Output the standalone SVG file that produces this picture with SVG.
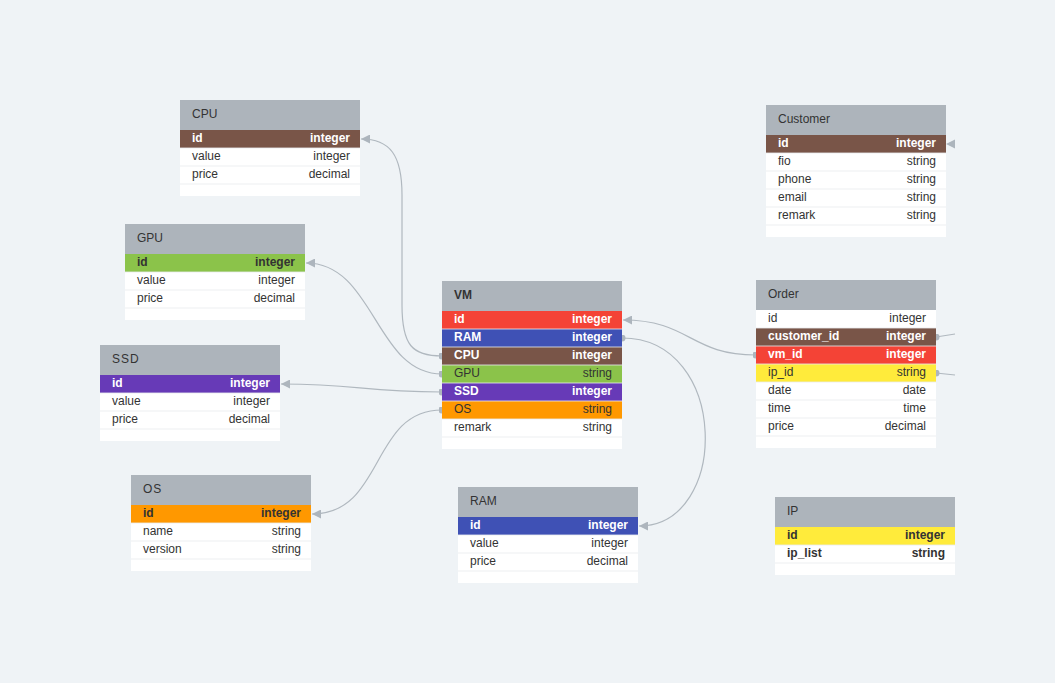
<svg xmlns="http://www.w3.org/2000/svg" width="1055" height="683" viewBox="0 0 1055 683">
<style>
.bg{fill:#eff3f6}
.hd{fill:#adb4bb}
.body{fill:#ffffff}
.ttl{font-family:"Liberation Sans",Arial,sans-serif;font-size:12px;fill:#333}
.t{font-family:"Liberation Sans",Arial,sans-serif;font-size:12px;fill:#333}
.r{text-anchor:end}
.w{fill:#ffffff;font-weight:bold}
.b{font-weight:bold}
.sep{stroke:#e9edf0;stroke-width:1.2;opacity:0.8}
.brown{fill:#795548}.red{fill:#f44336}.blue{fill:#3f51b5}.green{fill:#8bc34a}.purple{fill:#673ab7}.orange{fill:#ff9800}.yellow{fill:#ffeb3b}
.link{fill:none;stroke:#b0b8bf;stroke-width:1.2}
.ah{fill:#adb5bd}
</style>
<defs>
<marker id="arr" viewBox="0 0 10 10" refX="10" refY="5" markerWidth="9" markerHeight="9" markerUnits="userSpaceOnUse" orient="auto"><path d="M0,0 L10,5 L0,10 z" fill="#adb5bd"/></marker>
<marker id="dot" viewBox="0 0 10 10" refX="5" refY="5" markerWidth="7" markerHeight="7" markerUnits="userSpaceOnUse"><circle cx="5" cy="5" r="5" fill="#adb5bd"/></marker>
</defs>
<rect class="bg" x="0" y="0" width="1055" height="683"/>

<g id="connectors">
<path class="link" d="M442,356 C412,356 402,345 402,305 L402,195 C402,155 390,139 361,139" marker-start="url(#dot)" marker-end="url(#arr)"/>
<path class="link" d="M442,374 C375,374 375,263 306,263" marker-start="url(#dot)" marker-end="url(#arr)"/>
<path class="link" d="M442,392 C360,392 360,384 281,384" marker-start="url(#dot)" marker-end="url(#arr)"/>
<path class="link" d="M442,410 C370,410 385,514 312,514" marker-start="url(#dot)" marker-end="url(#arr)"/>
<path class="link" d="M622,338 C730,338 730,526 639,526" marker-start="url(#dot)" marker-end="url(#arr)"/>
<path class="link" d="M756,355 C690,355 690,320 623,320" marker-start="url(#dot)" marker-end="url(#arr)"/>
<path class="link" d="M936,337 L955,334" marker-start="url(#dot)"/>
<path class="link" d="M936,373 L955,375" marker-start="url(#dot)"/>
<polygon class="ah" points="946,144 955,139.5 955,148.5"/>
</g>

<g id="node-cpu">
<rect class="hd" x="180" y="100" width="180" height="30"/>
<text class="ttl" x="192" y="118">CPU</text>
<rect class="body" x="180" y="130" width="180" height="66"/>
<rect class="brown" x="180" y="130" width="180" height="18"/>
<line class="sep" x1="180" y1="148" x2="360" y2="148"/><line class="sep" x1="180" y1="166" x2="360" y2="166"/><line class="sep" x1="180" y1="184" x2="360" y2="184"/>
<text class="t w" x="192" y="142">id</text><text class="t w r" x="350" y="142">integer</text>
<text class="t" x="192" y="160">value</text><text class="t r" x="350" y="160">integer</text>
<text class="t" x="192" y="178">price</text><text class="t r" x="350" y="178">decimal</text>
</g>

<g id="node-gpu">
<rect class="hd" x="125" y="224" width="180" height="30"/>
<text class="ttl" x="137" y="242">GPU</text>
<rect class="body" x="125" y="254" width="180" height="66"/>
<rect class="green" x="125" y="254" width="180" height="18"/>
<line class="sep" x1="125" y1="272" x2="305" y2="272"/><line class="sep" x1="125" y1="290" x2="305" y2="290"/><line class="sep" x1="125" y1="308" x2="305" y2="308"/>
<text class="t b" x="137" y="266">id</text><text class="t b r" x="295" y="266">integer</text>
<text class="t" x="137" y="284">value</text><text class="t r" x="295" y="284">integer</text>
<text class="t" x="137" y="302">price</text><text class="t r" x="295" y="302">decimal</text>
</g>

<g id="node-ssd">
<rect class="hd" x="100" y="345" width="180" height="30"/>
<text class="ttl" x="112" y="363" letter-spacing="1">SSD</text>
<rect class="body" x="100" y="375" width="180" height="66"/>
<rect class="purple" x="100" y="375" width="180" height="18"/>
<line class="sep" x1="100" y1="393" x2="280" y2="393"/><line class="sep" x1="100" y1="411" x2="280" y2="411"/><line class="sep" x1="100" y1="429" x2="280" y2="429"/>
<text class="t w" x="112" y="387">id</text><text class="t w r" x="270" y="387">integer</text>
<text class="t" x="112" y="405">value</text><text class="t r" x="270" y="405">integer</text>
<text class="t" x="112" y="423">price</text><text class="t r" x="270" y="423">decimal</text>
</g>

<g id="node-os">
<rect class="hd" x="131" y="475" width="180" height="30"/>
<text class="ttl" x="143" y="493" letter-spacing="1">OS</text>
<rect class="body" x="131" y="505" width="180" height="66"/>
<rect class="orange" x="131" y="505" width="180" height="18"/>
<line class="sep" x1="131" y1="523" x2="311" y2="523"/><line class="sep" x1="131" y1="541" x2="311" y2="541"/><line class="sep" x1="131" y1="559" x2="311" y2="559"/>
<text class="t b" x="143" y="517">id</text><text class="t b r" x="301" y="517">integer</text>
<text class="t" x="143" y="535">name</text><text class="t r" x="301" y="535">string</text>
<text class="t" x="143" y="553">version</text><text class="t r" x="301" y="553">string</text>
</g>

<g id="node-vm">
<rect class="hd" x="442" y="281" width="180" height="30"/>
<text class="ttl b" x="454" y="299">VM</text>
<rect class="body" x="442" y="311" width="180" height="138"/>
<rect class="red" x="442" y="311" width="180" height="18"/>
<rect class="blue" x="442" y="329" width="180" height="18"/>
<rect class="brown" x="442" y="347" width="180" height="18"/>
<rect class="green" x="442" y="365" width="180" height="18"/>
<rect class="purple" x="442" y="383" width="180" height="18"/>
<rect class="orange" x="442" y="401" width="180" height="18"/>
<line class="sep" x1="442" y1="329" x2="622" y2="329"/><line class="sep" x1="442" y1="347" x2="622" y2="347"/><line class="sep" x1="442" y1="365" x2="622" y2="365"/><line class="sep" x1="442" y1="383" x2="622" y2="383"/><line class="sep" x1="442" y1="401" x2="622" y2="401"/><line class="sep" x1="442" y1="419" x2="622" y2="419"/><line class="sep" x1="442" y1="437" x2="622" y2="437"/>
<text class="t w" x="454" y="323">id</text><text class="t w r" x="612" y="323">integer</text>
<text class="t w" x="454" y="341">RAM</text><text class="t w r" x="612" y="341">integer</text>
<text class="t w" x="454" y="359">CPU</text><text class="t w r" x="612" y="359">integer</text>
<text class="t" x="454" y="377">GPU</text><text class="t r" x="612" y="377">string</text>
<text class="t w" x="454" y="395">SSD</text><text class="t w r" x="612" y="395">integer</text>
<text class="t" x="454" y="413">OS</text><text class="t r" x="612" y="413">string</text>
<text class="t" x="454" y="431">remark</text><text class="t r" x="612" y="431">string</text>
</g>

<g id="node-ram">
<rect class="hd" x="458" y="487" width="180" height="30"/>
<text class="ttl" x="470" y="505">RAM</text>
<rect class="body" x="458" y="517" width="180" height="66"/>
<rect class="blue" x="458" y="517" width="180" height="18"/>
<line class="sep" x1="458" y1="535" x2="638" y2="535"/><line class="sep" x1="458" y1="553" x2="638" y2="553"/><line class="sep" x1="458" y1="571" x2="638" y2="571"/>
<text class="t w" x="470" y="529">id</text><text class="t w r" x="628" y="529">integer</text>
<text class="t" x="470" y="547">value</text><text class="t r" x="628" y="547">integer</text>
<text class="t" x="470" y="565">price</text><text class="t r" x="628" y="565">decimal</text>
</g>

<g id="node-order">
<rect class="hd" x="756" y="280" width="180" height="30"/>
<text class="ttl" x="768" y="298">Order</text>
<rect class="body" x="756" y="310" width="180" height="138"/>
<rect class="brown" x="756" y="328" width="180" height="18"/>
<rect class="red" x="756" y="346" width="180" height="18"/>
<rect class="yellow" x="756" y="364" width="180" height="18"/>
<line class="sep" x1="756" y1="328" x2="936" y2="328"/><line class="sep" x1="756" y1="346" x2="936" y2="346"/><line class="sep" x1="756" y1="364" x2="936" y2="364"/><line class="sep" x1="756" y1="382" x2="936" y2="382"/><line class="sep" x1="756" y1="400" x2="936" y2="400"/><line class="sep" x1="756" y1="418" x2="936" y2="418"/><line class="sep" x1="756" y1="436" x2="936" y2="436"/>
<text class="t" x="768" y="322">id</text><text class="t r" x="926" y="322">integer</text>
<text class="t w" x="768" y="340">customer_id</text><text class="t w r" x="926" y="340">integer</text>
<text class="t w" x="768" y="358">vm_id</text><text class="t w r" x="926" y="358">integer</text>
<text class="t" x="768" y="376">ip_id</text><text class="t r" x="926" y="376">string</text>
<text class="t" x="768" y="394">date</text><text class="t r" x="926" y="394">date</text>
<text class="t" x="768" y="412">time</text><text class="t r" x="926" y="412">time</text>
<text class="t" x="768" y="430">price</text><text class="t r" x="926" y="430">decimal</text>
</g>

<g id="node-customer">
<rect class="hd" x="766" y="105" width="180" height="30"/>
<text class="ttl" x="778" y="123">Customer</text>
<rect class="body" x="766" y="135" width="180" height="102"/>
<rect class="brown" x="766" y="135" width="180" height="18"/>
<line class="sep" x1="766" y1="153" x2="946" y2="153"/><line class="sep" x1="766" y1="171" x2="946" y2="171"/><line class="sep" x1="766" y1="189" x2="946" y2="189"/><line class="sep" x1="766" y1="207" x2="946" y2="207"/><line class="sep" x1="766" y1="225" x2="946" y2="225"/>
<text class="t w" x="778" y="147">id</text><text class="t w r" x="936" y="147">integer</text>
<text class="t" x="778" y="165">fio</text><text class="t r" x="936" y="165">string</text>
<text class="t" x="778" y="183">phone</text><text class="t r" x="936" y="183">string</text>
<text class="t" x="778" y="201">email</text><text class="t r" x="936" y="201">string</text>
<text class="t" x="778" y="219">remark</text><text class="t r" x="936" y="219">string</text>
</g>

<g id="node-ip">
<rect class="hd" x="775" y="497" width="180" height="30"/>
<text class="ttl" x="787" y="515">IP</text>
<rect class="body" x="775" y="527" width="180" height="48"/>
<rect class="yellow" x="775" y="527" width="180" height="18"/>
<line class="sep" x1="775" y1="545" x2="955" y2="545"/><line class="sep" x1="775" y1="563" x2="955" y2="563"/>
<text class="t b" x="787" y="539">id</text><text class="t b r" x="945" y="539">integer</text>
<text class="t b" x="787" y="557">ip_list</text><text class="t b r" x="945" y="557">string</text>
</g>
</svg>
